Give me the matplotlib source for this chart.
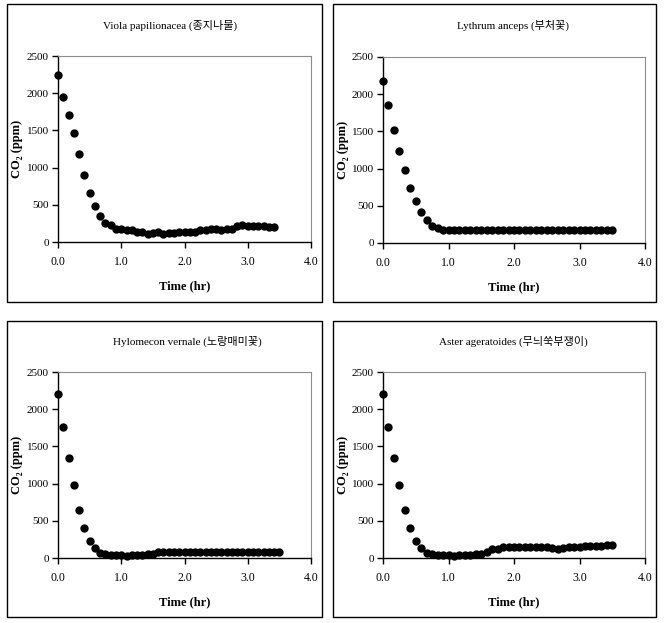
import numpy as np
import matplotlib
matplotlib.use('Agg')
import matplotlib.pyplot as plt
from matplotlib.patches import Rectangle

# CO2 readings every 5 min (1/12 hr)
viola = [2250, 1950, 1710, 1470, 1180, 900, 660, 490, 350, 260, 230, 170, 180, 165,
         160, 135, 140, 110, 115, 135, 110, 120, 120, 135, 135, 140, 140, 160, 165,
         170, 170, 165, 175, 175, 220, 225, 210, 210, 220, 220, 205, 195]
lythrum = [2180, 1850, 1515, 1235, 980, 745, 565, 420, 310, 235, 200, 175] + [170] * 31
hylomecon = [2210, 1760, 1350, 975, 640, 400, 230, 135, 70, 55, 35, 35, 35, 30, 35,
             35, 40, 50, 60, 80] + [85] * 23
aster = [2210, 1760, 1350, 975, 640, 400, 230, 140, 70, 55, 35, 35, 35, 30, 35, 35,
         40, 50, 60, 85, 115, 125, 145, 145, 145, 145, 150, 150, 150, 145, 145, 140,
         125, 140, 145, 150, 150, 165, 165, 165, 165, 170, 170]

titles = ['Viola papilionacea (종지나물)', 'Lythrum anceps (부처꽃)',
          'Hylomecon vernale (노랑매미꽃)', 'Aster ageratoides (무늬쑥부쟁이)']
series = [viola, lythrum, hylomecon, aster]

W, H = 665, 623
serif = ['Liberation Serif', 'DejaVu Serif']
ko = ['Liberation Serif', 'Noto Sans CJK KR']

fig = plt.figure(figsize=(W / 100, H / 100), dpi=100)

def fx(px):
    return px / W

def fy(py):
    return 1 - py / H

# panel frames (x0, y0, x1, y1) and plot areas in pixels
frames = [(7, 4, 322, 302), (333, 4, 656, 302), (7, 321, 322, 617), (333, 321, 656, 617)]
areas = [(58, 56, 311, 242), (383, 57, 645, 243), (58, 372, 311, 558), (383, 372, 645, 558)]
title_x = [170, 513, 187, 513]
title_y = [25, 25, 341, 341]
ylab_x = [17, 343, 17, 343]

for i in range(4):
    x0, y0, x1, y1 = frames[i]
    fig.patches.append(Rectangle((fx(x0), fy(y1)), fx(x1 - x0), (y1 - y0) / H,
                                 transform=fig.transFigure, fill=False,
                                 edgecolor='black', linewidth=1.0))
    a0, b0, a1, b1 = areas[i]
    ax = fig.add_axes([fx(a0), fy(b1), fx(a1 - a0), (b1 - b0) / H])
    y = np.array(series[i])
    t = np.arange(len(y)) / 12
    ax.plot(t, y, 'o', color='black', markersize=5, clip_on=False)
    ax.set_xlim(0, 4)
    ax.set_ylim(0, 2500)
    ax.set_xticks(np.arange(0, 4.1, 1))
    ax.set_xticklabels(['%.1f' % v for v in np.arange(0, 4.1, 1)], family=serif, fontsize=8.5)
    ax.set_yticks(np.arange(0, 2501, 500))
    ax.set_yticklabels([str(v) for v in range(0, 2501, 500)], family=serif, fontsize=8)
    ax.tick_params(direction='out', length=4, width=1, color='black')
    ax.tick_params(axis='y', pad=2.5)
    ax.tick_params(axis='x', pad=6)
    for s in ['top', 'right']:
        ax.spines[s].set_color('#8c8c8c')
        ax.spines[s].set_linewidth(0.8)
    for s in ['left', 'bottom']:
        ax.spines[s].set_color('black')
        ax.spines[s].set_linewidth(1.0)
    ax.set_xlabel('Time (hr)', family=serif, fontsize=9, fontweight='bold', labelpad=9)
    fig.text(fx(ylab_x[i]), fy((b0 + b1) / 2), 'CO₂ (ppm)', family=serif, fontsize=9,
             fontweight='bold', rotation=90, ha='center', va='center')
    fig.text(fx(title_x[i]), fy(title_y[i]), titles[i], family=ko, fontsize=8,
             ha='center', va='center')

fig.savefig('out.png', dpi=100, facecolor='white')
